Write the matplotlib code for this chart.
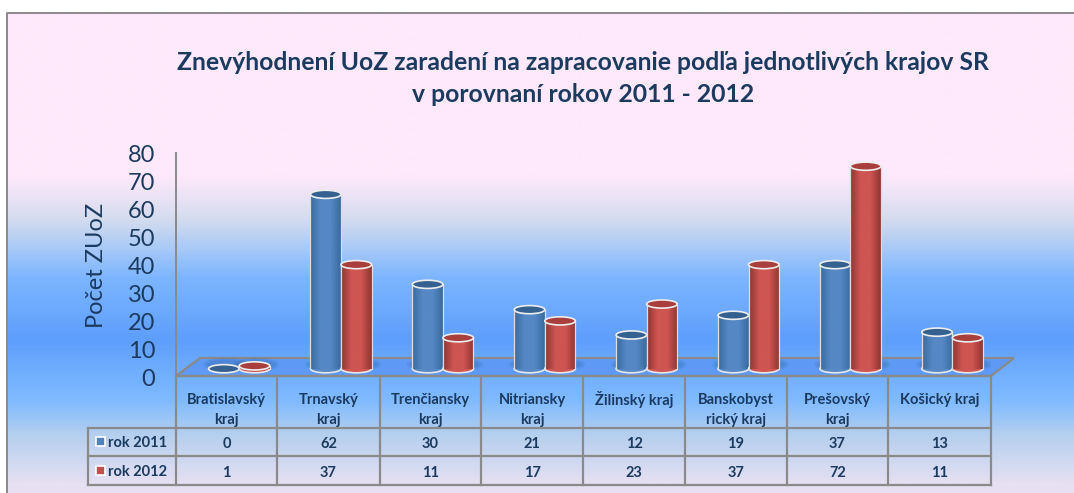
import numpy as np
import matplotlib
matplotlib.use('Agg')
import matplotlib.pyplot as plt
from matplotlib.colors import LinearSegmentedColormap
from matplotlib.patches import Ellipse, Polygon, Rectangle

plt.rcParams['font.family'] = ['Lato', 'DejaVu Sans']

kraje = ['Bratislavský\nkraj', 'Trnavský\nkraj', 'Trenčiansky\nkraj', 'Nitriansky\nkraj',
         'Žilinský kraj', 'Banskobyst\nrický kraj', 'Prešovský\nkraj', 'Košický kraj']
rok_2011 = [0, 62, 30, 21, 12, 19, 37, 13]
rok_2012 = [1, 37, 11, 17, 23, 37, 72, 11]
y_ticks = [0, 10, 20, 30, 40, 50, 60, 70, 80]

W, H = 1074, 493
TEXT = '#1B3A5F'
GRID = '#8A8A8A'

fig = plt.figure(figsize=(W / 100, H / 100), dpi=100)

# background and table live in a pixel-sized axes
bg = fig.add_axes([0, 0, 1, 1])
bg.set_xlim(0, W)
bg.set_ylim(H, 0)
bg.axis('off')

stops = [(0.0, '#FDE9FB'), (0.34, '#FDE9FB'), (0.43, '#D4DCEE'), (0.55, '#7DB6FF'),
         (0.68, '#5E9EFC'), (0.81, '#80BBFF'), (0.88, '#B5CFEE'), (0.98, '#E5E0F2'),
         (1.0, '#E8E0F2')]
bg_cmap = LinearSegmentedColormap.from_list('bg', stops)
bg.imshow(np.linspace(0, 1, 256).reshape(-1, 1), cmap=bg_cmap, aspect='auto',
          extent=[7, W, H, 13], zorder=0)
bg.set_xlim(0, W)
bg.set_ylim(H, 0)
bg.plot([7, 7, W], [H, 13, 13], color=GRID, lw=1.4, zorder=1)

# floor of the 3d box
bg.add_patch(Polygon([(176, 376), (200, 358), (1014, 358), (991, 376)], closed=True,
                     facecolor='#5E9AF5', edgecolor=GRID, lw=1.6, zorder=2))

# table
cell_x = [176, 277, 380, 481, 583, 685, 787, 888, 991]
for x in cell_x:
    bg.plot([x, x], [376, 485], color=GRID, lw=1.6, zorder=3)
bg.plot([176, 991], [376, 376], color=GRID, lw=1.6, zorder=3)
for y in [428, 456, 485]:
    bg.plot([88, 991], [y, y], color=GRID, lw=1.6, zorder=3)
bg.plot([88, 88], [428, 485], color=GRID, lw=1.6, zorder=3)

for i, name in enumerate(kraje):
    xc = (cell_x[i] + cell_x[i + 1]) / 2
    lines = name.split('\n')
    for j, line in enumerate(lines):
        bg.text(xc, 400 + j * 20, line, ha='center', va='center', fontsize=10.5,
                fontweight='bold', color=TEXT, zorder=4)
    bg.text(xc, 444, str(rok_2011[i]), ha='center', va='center', fontsize=10.5,
            fontweight='bold', color=TEXT, zorder=4)
    bg.text(xc, 473, str(rok_2012[i]), ha='center', va='center', fontsize=10.5,
            fontweight='bold', color=TEXT, zorder=4)

for y, c, lab in [(442, '#4F81BD', 'rok 2011'), (471, '#C0504D', 'rok 2012')]:
    bg.add_patch(Rectangle((96, y - 5), 9, 9, facecolor=c, edgecolor='white', lw=1.2, zorder=4))
    bg.text(108, y + 1, lab, ha='left', va='center', fontsize=10.5, fontweight='bold',
            color=TEXT, zorder=4)

bg.text(583, 62, 'Znevýhodnení UoZ zaradení na zapracovanie podľa jednotlivých krajov SR',
        ha='center', va='center', fontsize=17.8, fontweight='bold', color=TEXT)
bg.text(583, 94, 'v porovnaní rokov 2011 - 2012', ha='center', va='center', fontsize=17.8,
        fontweight='bold', color=TEXT)

# bars
ax = fig.add_axes([176 / W, 1 - 378 / H, (991 - 176) / W, (378 - 153) / H])
ax.patch.set_alpha(0)
for side in ['top', 'right', 'bottom']:
    ax.spines[side].set_visible(False)
ax.spines['left'].set_color(GRID)
ax.spines['left'].set_linewidth(1.4)
ax.tick_params(axis='y', length=0, labelsize=17, labelcolor=TEXT, pad=15)
ax.set_xticks([])
ax.set_yticks(y_ticks)
ax.set_ylabel('Počet ZUoZ', fontsize=17, color=TEXT, labelpad=15)

BASE = 3.3  # front of the floor sits above the zero tick
BAR_W = 0.3
SHIFT = 0.62
ELL_H = 2.9


def grad_cmap(dark, mid):
    return LinearSegmentedColormap.from_list('c', [dark, mid, mid, dark], N=128)


def cylinder(x, value, dark, mid, top, z):
    # soft shadow on the floor
    for k in range(3):
        ax.add_patch(Ellipse((x + 0.02, BASE + 1.5), BAR_W * (1.5 - 0.15 * k), 5 - k,
                             facecolor='#2F5F9F', edgecolor='none', alpha=0.13, zorder=z - 3))
    if value > 0:
        bars = ax.bar(x, value, BAR_W, bottom=BASE, color='none', edgecolor='none', zorder=z)
        rect = bars[0]
        foot = Ellipse((x, BASE), BAR_W, ELL_H, facecolor=mid, edgecolor='#E6E6E6', lw=1.2, zorder=z)
        ax.add_patch(foot)
        im = ax.imshow(np.linspace(0, 1, 64).reshape(1, -1), cmap=grad_cmap(dark, mid), aspect='auto',
                       extent=[x - BAR_W / 2, x + BAR_W / 2, BASE, BASE + value], zorder=z + 0.1)
        im.set_clip_path(rect)
        for sx in [x - BAR_W / 2, x + BAR_W / 2]:
            ax.plot([sx, sx], [BASE, BASE + value], color='#DDDDDD', lw=0.9, zorder=z + 0.2)
    ax.add_patch(Ellipse((x, BASE + value), BAR_W, ELL_H, facecolor=top, edgecolor='#EDEDED',
                         lw=1.2, zorder=z + 0.3))


for i in range(len(kraje)):
    cylinder(i + SHIFT - BAR_W / 2, rok_2011[i], '#3A6A9E', '#5588C4', '#34618F', 10 + i * 2)
    cylinder(i + SHIFT + BAR_W / 2, rok_2012[i], '#8E3633', '#CE5551', '#A83F3C', 11 + i * 2)

ax.set_xlim(0, len(kraje))
ax.set_ylim(0, 80)

fig.savefig('out.png', dpi=100)
